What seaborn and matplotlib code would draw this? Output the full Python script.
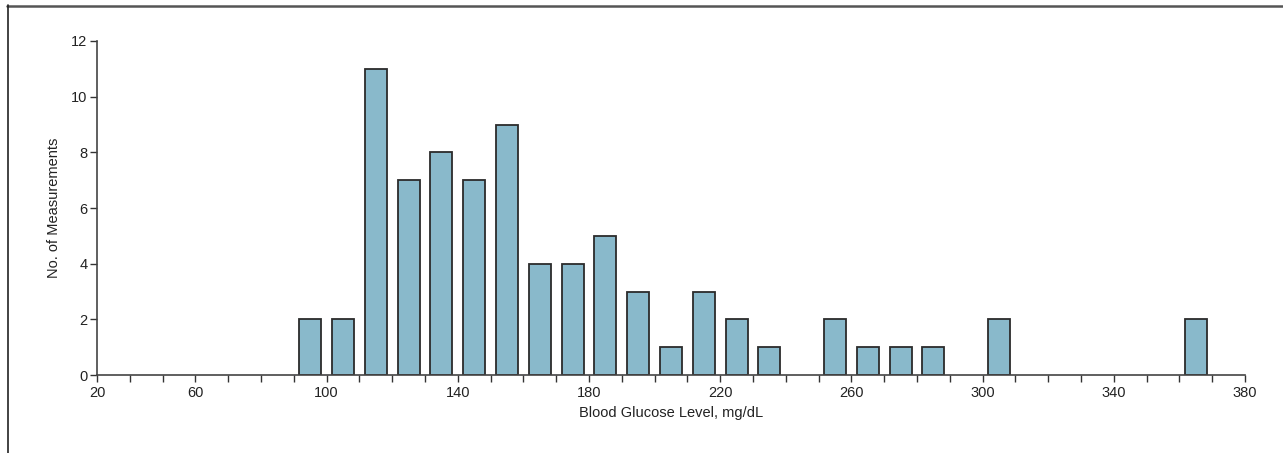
import matplotlib
matplotlib.use("Agg")
import matplotlib.pyplot as plt
import seaborn as sns
from matplotlib.lines import Line2D

# Histogram of blood glucose readings (bins of 10 mg/dL, only non-empty bins)
bin_centers = [95, 105, 115, 125, 135, 145, 155, 165, 175, 185, 195, 205,
               215, 225, 235, 255, 265, 275, 285, 305, 365]
counts = [2, 2, 11, 7, 8, 7, 9, 4, 4, 5, 3, 1,
          3, 2, 1, 2, 1, 1, 1, 2, 2]

# axis ticks (the original axis starts at a "20" label placed one step left of 40)
major_pos = [30, 60, 100, 140, 180, 220, 260, 300, 340, 380]
major_labels = ["20", "60", "100", "140", "180", "220", "260", "300", "340", "380"]
minor_pos = list(range(30, 381, 10))
y_ticks = [0, 2, 4, 6, 8, 10, 12]

sns.set_style("white")
plt.rcParams["font.family"] = ["Liberation Sans Narrow", "Liberation Sans", "DejaVu Sans"]
plt.rcParams["font.size"] = 10

fig = plt.figure(figsize=(12.83, 4.53), dpi=100)
ax = fig.add_axes([0.0756, 0.172, 0.8948, 0.7375])

sns.barplot(x=bin_centers, y=counts, native_scale=True, width=0.67,
            color="#89b9cb", saturation=1, edgecolor="#2b2b2b", linewidth=1.3, ax=ax)

ax.set_xlim(30, 380)
ax.set_ylim(0, 12)
ax.set_xticks(major_pos)
ax.set_xticklabels(major_labels)
ax.set_xticks(minor_pos, minor=True)
ax.set_yticks(y_ticks)

ax.tick_params(axis="both", which="both", direction="out", length=5, width=1,
               color="#333333", labelcolor="#222222", labelsize=10.5)
ax.tick_params(axis="x", which="both", bottom=True, pad=3)
ax.tick_params(axis="y", left=True, pad=2)

for side in ["top", "right"]:
    ax.spines[side].set_visible(False)
for side in ["left", "bottom"]:
    ax.spines[side].set_color("#444444")
    ax.spines[side].set_linewidth(1.2)

ax.set_xlabel("Blood Glucose Level, mg/dL", fontsize=10.5, color="#222222", labelpad=4)
ax.set_ylabel("No. of Measurements", fontsize=10.5, color="#222222", labelpad=7)

# frame lines at top and left of the figure
fig.add_artist(Line2D([7 / 1283, 1.0], [1 - 6 / 453, 1 - 6 / 453],
                      transform=fig.transFigure, color="#555555", linewidth=1.8))
fig.add_artist(Line2D([8 / 1283, 8 / 1283], [0.0, 1 - 5 / 453],
                      transform=fig.transFigure, color="#222222", linewidth=1.2))

fig.savefig("out.png", dpi=100)
